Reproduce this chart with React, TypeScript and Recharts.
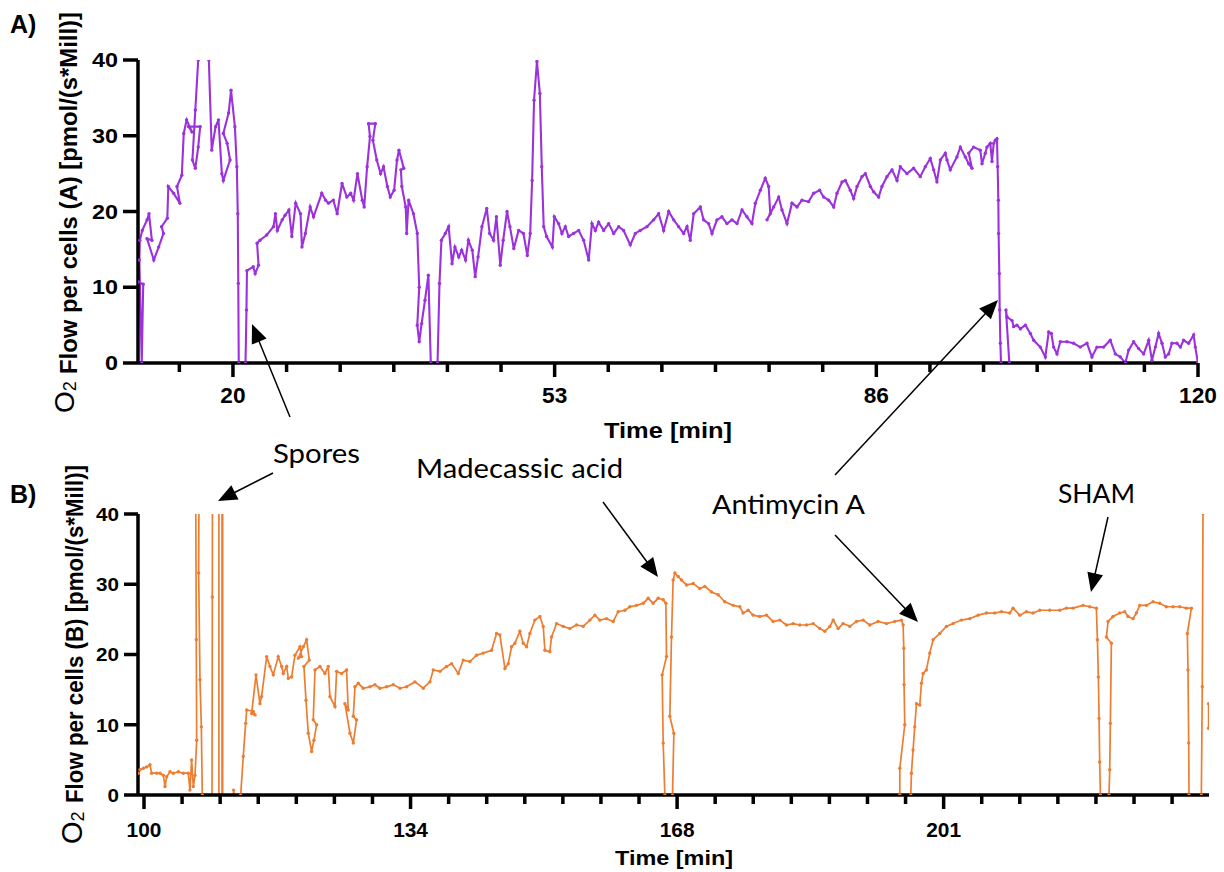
import React from 'react';
import { LineChart, Line, XAxis, YAxis } from 'recharts';

// ---------- DATA ----------
// Panel A: [time (min), O2 flow]
const traceA: [number, number][] = [
  [10.2,10.7],[10.7,10.4],[10.55,0],[10.3,13.6],[10.35,16.2],[10.6,17.5],[11.1,18.9],[11.3,19.7],[11.6,16.2],[11.1,16.4],
  [11.8,13.6],[12.3,15.3],[12.8,17.1],[12.6,18.0],[13.2,19.1],[13.3,23.3],[13.85,22.4],[14.5,21.1],[14.2,23.3],[14.7,24.8],
  [14.9,30.3],[15.2,32.1],[15.75,30.5],[15.4,31.2],[16.6,31.2],[16.4,28.5],[16.1,25.7],[15.8,26.8],[16.1,33.4],[16.4,40],
  [17.0,44],[17.5,40],[17.8,28.1],[18.2,31.2],[18.5,32.1],[18.85,25.0],[19.0,24.1],[19.7,26.8],[19.4,29.0],[19.0,30.3],
  [19.55,33.0],[19.8,36.0],[20.2,31.2],[20.4,25.9],[20.5,19.7],[20.55,10.5],[20.6,0],[21.3,0],[21.4,7.0],[21.45,12.2],
  [22.1,12.7],[22.3,11.8],[22.65,12.9],[22.5,15.8],[22.8,16.2],[23.5,16.9],[24.2,18.0],[24.4,19.7],[24.6,17.5],[25.1,18.9],
  [25.4,19.5],[25.8,20.2],[26.1,16.7],[26.5,21.1],[27.0,19.7],[27.15,15.3],[27.5,17.1],[28.0,20.6],[28.35,19.3],[29.2,22.4],
  [29.6,21.5],[29.9,21.1],[30.4,21.5],[30.8,19.7],[31.3,23.7],[31.8,21.9],[32.2,22.4],[32.5,21.5],[32.9,25.0],[33.4,21.5],
  [33.6,20.6],[33.9,25.9],[34.2,29.9],[34.05,31.6],[34.75,31.6],[34.5,29.4],[34.9,26.8],[35.3,25.0],[35.6,25.9],[36.0,23.3],
  [36.3,21.9],[36.7,22.8],[37.0,26.8],[37.2,28.1],[37.7,25.7],[37.4,25.5],[37.5,23.3],[37.9,20.6],[38.0,17.1],[38.2,21.5],
  [38.7,19.7],[39.1,17.1],[39.3,10.0],[39.1,5.0],[39.3,2.8],[39.55,5.2],[39.9,8.3],[40.25,11.6],[40.5,0],[41.2,0],
  [41.4,10.5],[41.6,16.2],[42.0,17.1],[42.35,18.0],[42.7,13.1],[43.0,15.3],[43.4,14.0],[43.7,14.9],[44.1,13.6],[44.4,16.2],
  [44.8,14.9],[45.1,11.4],[45.4,14.0],[45.8,18.0],[46.3,20.4],[46.6,17.1],[47.0,16.2],[47.3,19.3],[47.7,12.9],[48.0,16.2],
  [48.4,20.0],[48.7,18.0],[49.1,15.1],[49.6,17.5],[50.1,17.1],[50.5,14.2],[50.8,17.1],[51.0,24.1],[51.2,34.7],[51.5,39.8],
  [51.8,35.6],[52.0,25.9],[52.2,18.0],[52.5,16.7],[53.1,15.3],[53.3,19.3],[53.75,18.4],[54.09,17.1],[54.44,18.0],[54.78,16.7],
  [55.3,17.1],[55.82,17.5],[56.34,16.2],[56.86,13.6],[57.2,18.4],[57.55,17.5],[57.89,18.6],[58.41,17.5],[58.93,18.4],[59.45,17.1],
  [59.97,18.0],[60.48,17.5],[61.17,15.6],[61.69,17.1],[62.21,17.5],[62.9,18.0],[63.59,18.9],[64.11,19.7],[64.63,17.5],[65.15,20.0],
  [65.67,18.9],[66.18,18.0],[66.7,17.1],[67.05,18.0],[67.39,16.2],[67.74,19.7],[68.43,20.6],[68.77,18.9],[69.29,18.4],[69.64,17.1],
  [70.15,18.9],[70.67,19.3],[71.19,18.4],[71.71,18.9],[72.23,18.4],[72.75,20.2],[73.26,19.3],[73.78,18.4],[74.13,21.1],[74.65,22.8],
  [75.16,24.4],[75.51,23.3],[75.68,19.7],[75.34,18.9],[76.03,20.6],[76.55,21.9],[76.89,20.2],[77.41,18.4],[77.93,21.1],[78.45,20.6],
  [78.96,21.5],[79.65,21.3],[80.17,22.4],[80.79,22.8],[81.21,21.9],[81.73,21.5],[82.25,20.6],[82.59,22.4],[83.11,23.9],[83.46,24.1],
  [83.97,22.8],[84.32,21.7],[84.67,23.3],[85.18,24.6],[85.53,25.0],[86.05,23.3],[86.39,22.6],[86.91,21.9],[87.25,23.3],[87.77,24.6],
  [88.29,25.5],[88.81,24.1],[89.15,25.9],[89.84,25.0],[90.53,25.7],[91.22,24.6],[91.74,25.9],[92.26,27.0],[92.61,25.5],[92.95,23.9],
  [93.3,26.8],[93.82,27.7],[93.99,26.8],[94.33,25.5],[95.02,27.2],[95.37,28.5],[95.89,27.2],[96.24,26.3],[96.58,25.7],[96.24,27.7],
  [96.75,28.5],[97.44,28.1],[97.62,26.3],[97.96,27.7],[98.13,28.5],[98.48,29.0],[98.65,26.6],[98.83,29.0],[99.0,29.4],[99.17,29.6],
  [99.24,25.9],[99.31,21.5],[99.34,17.1],[99.41,11.8],[99.45,7.0],[99.52,2.6],[99.59,0],[100.45,0],[100.1,7.0],[100.2,6.1],
  [100.73,5.6],[100.9,4.8],[101.24,5.0],[101.59,4.5],[102.11,5.0],[102.63,3.9],[102.97,3.0],[103.66,2.1],[104.18,0.8],[104.53,4.1],
  [104.8,3.9],[105.04,2.1],[105.39,1.2],[105.73,2.8],[106.42,2.8],[107.11,2.6],[107.8,2.1],[108.49,2.6],[109.01,0.8],[109.53,2.1],
  [110.22,2.1],[110.91,3.0],[111.43,1.2],[111.95,0.8],[112.47,0],[112.81,1.7],[113.33,2.8],[113.85,1.9],[114.37,1.2],[114.89,3.0],
  [115.23,0.35],[115.58,2.1],[115.92,3.9],[116.27,2.6],[116.61,0.8],[116.96,1.2],[117.3,2.6],[117.82,2.6],[118.17,2.1],[118.51,3.0],
  [119.03,2.6],[119.55,3.7],[119.72,2.1],[119.98,0.1],
];

// Panel B: [time (min), O2 flow]; null = gap
const traceB: [number, number | null][] = [
  [99.28,3.1],[99.49,3.6],[99.92,3.8],[100.34,4.0],[100.76,4.3],[100.97,3.1],[101.6,3.1],[102.03,3.1],[102.45,2.8],[102.66,1.2],
  [102.87,2.6],[103.29,3.3],[103.71,3.1],[104.35,3.3],[104.98,3.1],[105.61,3.1],[105.82,0.7],[106.03,5.0],[106.24,1.2],[106.46,2.8],
  [106.67,7.8],[106.62,22.1],[106.54,46],[106.96,43],[106.92,31.6],[107.09,16.4],[107.26,9.7],[107.38,0],[108.61,-1.7],[108.65,28.2],
  [108.69,65],[109.49,65],[109.49,-1.7],[109.88,-1.7],[109.88,65],[109.96,65],[109.96,-1.7],[111.3,-0.5],[111.35,0.7],[111.45,-0.5],
  [112.24,0],[112.57,5.5],[112.87,10.2],[113.0,12.1],[113.84,11.9],[114.05,11.4],[113.63,11.6],[114.18,17.1],[114.68,13.0],[114.89,14.0],
  [115.53,19.7],[115.95,18.3],[116.37,17.1],[117.0,19.7],[117.43,18.3],[117.64,17.3],[118.06,18.3],[118.27,16.6],[118.69,16.8],[119.11,19.9],
  [119.75,21.1],[119.96,19.7],[119.54,19.5],[120.17,21.1],[120.59,22.1],[120.93,19.2],[120.25,18.3],[120.51,13.5],[120.8,8.8],[121.22,6.2],
  [121.52,7.8],[121.86,10.0],[121.43,10.7],[121.65,17.8],[122.28,18.3],[122.91,17.3],[123.33,18.3],[123.54,14.0],[124.18,12.6],[124.39,17.6],
  [125.02,17.3],[125.65,17.8],[125.86,12.1],[125.44,13.0],[126.08,8.8],[126.5,7.4],[126.92,10.7],[126.5,11.2],[126.71,15.4],[127.13,15.9],
  [127.76,15.2],[128.61,15.4],[129.24,15.7],[129.87,15.2],[130.72,15.4],[131.56,15.7],[132.41,15.2],[133.25,15.4],[134.3,16.1],[135.36,15.2],
  [136.2,16.1],[136.62,17.8],[137.47,17.6],[138.31,18.3],[138.95,18.7],[139.79,17.3],[140.42,19.2],[141.27,19.0],[142.11,19.9],[142.95,20.2],
  [144.01,20.6],[144.64,23.0],[145.06,22.8],[145.7,18.0],[146.12,18.7],[146.54,21.1],[146.96,21.6],[147.59,23.3],[148.02,21.6],[148.44,21.1],
  [148.86,23.0],[149.49,24.9],[150.13,25.4],[150.55,24.0],[150.76,20.6],[151.39,20.4],[151.6,22.5],[152.24,24.4],[153.08,24.0],[153.92,23.7],
  [154.77,24.2],[155.61,24.0],[156.46,24.9],[157.09,25.6],[157.72,24.9],[158.57,25.1],[159.41,24.7],[160.04,26.1],[160.89,26.3],[161.52,26.8],
  [162.36,27.0],[163.21,27.3],[163.84,28.0],[164.47,27.3],[165.11,28.0],[165.74,27.8],[166.08,27.3],[166.16,19.7],[165.61,17.1],[165.74,7.4],
  [165.95,0],[166.92,0],[167.09,8.8],[166.58,11.2],[166.79,22.5],[167.0,30.6],[167.22,31.6],[167.64,31.1],[168.06,30.6],[168.69,29.9],
  [169.54,30.1],[170.38,29.4],[171.01,29.7],[171.86,28.9],[172.7,28.5],[173.54,27.5],[174.6,27.0],[175.44,26.8],[175.86,25.9],[176.5,26.3],
  [177.13,25.6],[177.97,25.4],[178.82,25.6],[179.66,24.7],[180.51,24.9],[181.35,24.2],[182.19,24.4],[183.04,24.2],[183.88,24.2],[184.73,24.4],
  [185.57,23.7],[186.2,23.3],[186.84,24.0],[187.26,24.9],[187.89,23.7],[188.52,24.4],[189.37,24.0],[190.21,24.7],[191.06,24.9],[191.9,24.2],
  [192.95,24.7],[194.01,24.4],[195.06,24.7],[195.91,24.9],[196.12,24.2],[196.2,20.9],[196.24,15.7],[196.33,10.0],[195.7,3.8],[195.7,0],
  [197.09,0],[197.17,3.1],[197.38,6.4],[197.59,9.7],[197.81,13.0],[198.23,12.8],[198.44,15.9],[198.65,17.3],[199.07,17.8],[199.49,20.2],
  [199.92,22.1],[200.76,23.0],[201.6,24.0],[202.45,24.4],[203.5,24.9],[204.56,25.1],[205.61,25.6],[206.67,25.9],[207.72,25.9],[208.57,26.1],
  [209.62,25.9],[210.04,26.6],[210.89,25.6],[211.73,26.1],[212.57,25.9],[213.42,26.3],[214.68,26.3],[215.95,26.3],[216.79,26.6],[217.64,26.6],
  [218.9,27.0],[219.75,26.8],[220.59,26.6],[220.72,22.1],[220.84,16.8],[220.93,10.9],[221.01,4.7],[221.1,0],[222.19,0],[222.28,3.6],
  [222.36,10.2],[222.49,21.6],[221.86,22.5],[222.07,24.7],[222.7,25.4],[223.54,25.9],[224.18,26.1],[224.6,25.4],[225.23,25.1],[225.65,25.9],
  [226.08,27.0],[226.92,27.0],[227.76,27.5],[228.61,27.3],[229.45,26.8],[230.3,26.8],[231.14,26.8],[231.98,26.6],[232.62,26.6],[232.11,23.0],
  [232.19,17.8],[232.28,7.4],[232.32,0],[233.88,0],[234.0,15.4],[234.09,40.1],[234.18,55],[234.5,null],[234.8,13.0],[234.8,9.5],
];

const yTicks = [0, 10, 20, 30, 40];
const majorTicksA = [20, 53.333, 86.667, 120];
const majorLabelsA = ['20', '53', '86', '120'];
const majorTicksB = [100, 133.75, 167.5, 201.25];
const majorLabelsB = ['100', '134', '168', '201'];

const annotations = ['Spores', 'Madecassic acid', 'Antimycin A', 'SHAM'];

// ---------- STYLE / LAYOUT ----------
const PURPLE = '#9b32dc';
const ORANGE = '#ed7d31';
const FONT = '"Liberation Sans", Arial, sans-serif';
const ANNOT_FONT = 'Lato, "Open Sans", sans-serif';

function buildTicks(majors: number[], nSub: number, before: number, after: number) {
  const step = (majors[1] - majors[0]) / nSub;
  const out: number[] = [];
  for (let k = before; k > 0; k--) out.push(majors[0] - k * step);
  for (let i = 0; i < majors.length; i++) {
    out.push(majors[i]);
    if (i < majors.length - 1) for (let k = 1; k < nSub; k++) out.push(majors[i] + k * step);
  }
  const last = majors[majors.length - 1];
  for (let k = 1; k <= after; k++) out.push(last + k * step);
  return out;
}

const ticksA = buildTicks(majorTicksA, 6, 1, 0);
const ticksB = buildTicks(majorTicksB, 7, 0, 6);

const rowsA = traceA.map(([t, v]) => ({ t, v }));
const rowsB = traceB.map(([t, v]) => ({ t, v }));

const makeXTick = (majors: number[], labels: string[], fs: number, labelDy: number, digitW: number) => (props: any) => {
  const { x, y, payload } = props;
  const idx = majors.findIndex((m) => Math.abs(m - payload.value) < 1e-6);
  const major = idx >= 0;
  return (
    <g>
      <line x1={x} x2={x} y1={y} y2={y + (major ? 14 : 9)} stroke="#000" strokeWidth={3.5} />
      {major && (
        <text
          x={x - (labels[idx].length * digitW) / 2}
          y={y + labelDy}
          fontSize={fs}
          fontWeight={700}
          fontFamily={FONT}
          fill="#000"
          textLength={labels[idx].length * digitW}
          lengthAdjust="spacingAndGlyphs"
        >
          {labels[idx]}
        </text>
      )}
    </g>
  );
};

const makeYTick = (fs: number, digitW: number) => (props: any) => {
  const { x, y, payload } = props;
  const s = String(payload.value);
  const w = s.length * digitW;
  return (
    <text
      x={x - w}
      y={y}
      dy="0.36em"
      fontSize={fs}
      fontWeight={700}
      fontFamily={FONT}
      fill="#000"
      textLength={w}
      lengthAdjust="spacingAndGlyphs"
    >
      {s}
    </text>
  );
};

function Arrow({ x1, y1, x2, y2 }: { x1: number; y1: number; x2: number; y2: number }) {
  const L = 19;
  const W = 8;
  const dx = x2 - x1;
  const dy = y2 - y1;
  const len = Math.hypot(dx, dy);
  const ux = dx / len;
  const uy = dy / len;
  const bx = x2 - ux * L;
  const by = y2 - uy * L;
  const px = -uy;
  const py = ux;
  return (
    <g>
      <line x1={x1} y1={y1} x2={bx + ux * 2} y2={by + uy * 2} stroke="#000" strokeWidth={1.5} />
      <polygon points={`${x2},${y2} ${bx + px * W},${by + py * W} ${bx - px * W},${by - py * W}`} fill="#000" />
    </g>
  );
}

const arrowLayout = [
  { x1: 273, y1: 473, x2: 218, y2: 501 },
  { x1: 290, y1: 417, x2: 252, y2: 324 },
  { x1: 603, y1: 502, x2: 658, y2: 577 },
  { x1: 835, y1: 535, x2: 918, y2: 622 },
  { x1: 835, y1: 475, x2: 998, y2: 300 },
  { x1: 1108, y1: 517, x2: 1091, y2: 592 },
];

const annotLayout = [
  { x: 273, y: 463, w: 87 },
  { x: 416, y: 478, w: 207 },
  { x: 712, y: 514, w: 153 },
  { x: 1058, y: 503, w: 77 },
];

const axisStroke = { stroke: '#000', strokeWidth: 3.5 };

export default function App() {
  return (
    <div style={{ position: 'absolute', left: 0, top: 0, width: 1224, height: 872, background: '#fff', fontFamily: FONT }}>
      <div style={{ position: 'absolute', left: 0, top: 0 }}>
        <LineChart width={1224} height={440} data={rowsA} margin={{ top: 60, right: 26, bottom: 17, left: 78 }}>
          <XAxis
            dataKey="t"
            type="number"
            domain={[10.16, 120]}
            ticks={ticksA}
            interval={0}
            allowDataOverflow
            height={60}
            axisLine={axisStroke}
            tickLine={false}
            tickSize={0}
            tickMargin={0}
            tick={makeXTick(majorTicksA, majorLabelsA, 21.5, 40, 12.6)}
          />
          <YAxis
            type="number"
            domain={[0, 40]}
            ticks={yTicks}
            interval={0}
            allowDataOverflow
            width={60}
            axisLine={axisStroke}
            tickLine={axisStroke}
            tickSize={15}
            tickMargin={5}
            tick={makeYTick(19.5, 13)}
          />
          <Line
            dataKey="v"
            type="linear"
            stroke={PURPLE}
            strokeWidth={2.1}
            dot={{ r: 1.7, fill: PURPLE, stroke: 'none' }}
            isAnimationActive={false}
          />
        </LineChart>
      </div>
      <div style={{ position: 'absolute', left: 0, top: 440 }}>
        <LineChart width={1224} height={432} data={rowsB} margin={{ top: 74, right: 15, bottom: 17, left: 78 }}>
          <XAxis
            dataKey="t"
            type="number"
            domain={[99.24, 234.85]}
            ticks={ticksB}
            interval={0}
            allowDataOverflow
            height={60}
            axisLine={axisStroke}
            tickLine={false}
            tickSize={0}
            tickMargin={0}
            tick={makeXTick(majorTicksB, majorLabelsB, 20, 42, 11.6)}
          />
          <YAxis
            type="number"
            domain={[0, 40]}
            ticks={yTicks}
            interval={0}
            allowDataOverflow
            width={60}
            axisLine={axisStroke}
            tickLine={axisStroke}
            tickSize={14}
            tickMargin={5}
            tick={makeYTick(19, 11.5)}
          />
          <Line
            dataKey="v"
            type="linear"
            stroke={ORANGE}
            strokeWidth={1.7}
            connectNulls={false}
            dot={{ r: 1.7, fill: ORANGE, stroke: 'none' }}
            isAnimationActive={false}
          />
        </LineChart>
      </div>
      <svg width={1224} height={872} style={{ position: 'absolute', left: 0, top: 0, pointerEvents: 'none' }}>
        {/* panel letters */}
        <text x={10} y={33} fontSize={25} fontWeight={700} fontFamily={FONT} fill="#000">A)</text>
        <text x={10} y={503} fontSize={25} fontWeight={700} fontFamily={FONT} fill="#000">B)</text>

        {/* y-axis titles */}
        <text transform="translate(74,413) rotate(-90)" fontFamily={FONT} fill="#000">
          <tspan fontSize={28}>O</tspan>
          <tspan fontSize={18} dy={2}>2</tspan>
        </text>
        <text
          transform="translate(77,374) rotate(-90)"
          fontFamily={FONT}
          fontSize={24}
          fontWeight={700}
          fill="#000"
          textLength={362}
          lengthAdjust="spacingAndGlyphs"
        >
          Flow per cells (A) [pmol/(s*Mill)]
        </text>
        <text transform="translate(82,844) rotate(-90)" fontFamily={FONT} fill="#000">
          <tspan fontSize={29}>O</tspan>
          <tspan fontSize={18} dy={2}>2</tspan>
        </text>
        <text
          transform="translate(83,803) rotate(-90)"
          fontFamily={FONT}
          fontSize={24}
          fontWeight={700}
          fill="#000"
          textLength={338}
          lengthAdjust="spacingAndGlyphs"
        >
          Flow per cells (B) [pmol/(s*Mill)]
        </text>

        {/* x-axis titles */}
        <text x={604} y={438} fontSize={22} fontWeight={700} fontFamily={FONT} fill="#000" textLength={128} lengthAdjust="spacingAndGlyphs">
          Time [min]
        </text>
        <text x={615} y={865} fontSize={21} fontWeight={700} fontFamily={FONT} fill="#000" textLength={118} lengthAdjust="spacingAndGlyphs">
          Time [min]
        </text>

        {/* annotations */}
        {annotations.map((label, i) => (
          <text
            key={label}
            x={annotLayout[i].x}
            y={annotLayout[i].y}
            fontSize={27.5}
            fontFamily={ANNOT_FONT}
            fill="#000"
            textLength={annotLayout[i].w}
            lengthAdjust="spacingAndGlyphs"
          >
            {label}
          </text>
        ))}
        {arrowLayout.map((a, i) => (
          <Arrow key={i} {...a} />
        ))}
      </svg>
    </div>
  );
}
